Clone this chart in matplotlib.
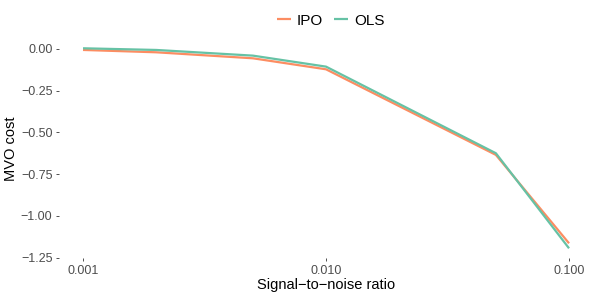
import matplotlib
matplotlib.use("Agg")
import matplotlib.pyplot as plt
from matplotlib.ticker import FixedLocator, FixedFormatter, NullLocator

# ── Data ──────────────────────────────────────────────────────────────────────
snr = [0.001, 0.002, 0.005, 0.01, 0.05, 0.1]
ipo_cost = [-0.006, -0.020, -0.056, -0.122, -0.635, -1.165]
ols_cost = [0.004, -0.006, -0.040, -0.106, -0.625, -1.195]

x_ticks = [0.001, 0.01, 0.1]
x_labels = ["0.001", "0.010", "0.100"]
y_ticks = [0.0, -0.25, -0.5, -0.75, -1.0, -1.25]
y_labels = ["0.00", "\u22120.25", "\u22120.50", "\u22120.75", "\u22121.00", "\u22121.25"]

IPO_COLOR = "#FC8D62"
OLS_COLOR = "#66C2A5"

plt.rcParams["font.family"] = ["Liberation Sans", "DejaVu Sans"]

fig = plt.figure(figsize=(5.98, 2.99), dpi=100)
ax = fig.add_axes([0.0982, 0.136, 0.894, 0.736])

ax.plot(snr, ipo_cost, color=IPO_COLOR, lw=1.6, label="IPO", solid_capstyle="butt")
ax.plot(snr, ols_cost, color=OLS_COLOR, lw=1.6, label="OLS", solid_capstyle="butt")

ax.set_xscale("log")
ax.set_xlim(10 ** -3.1, 10 ** -0.9)
ax.set_ylim(-1.255, 0.064)

ax.xaxis.set_major_locator(FixedLocator(x_ticks))
ax.xaxis.set_major_formatter(FixedFormatter(x_labels))
ax.xaxis.set_minor_locator(NullLocator())
ax.set_yticks(y_ticks)
ax.set_yticklabels(y_labels)

for s in ax.spines.values():
    s.set_visible(False)
ax.tick_params(axis="both", length=2.5, width=0.6, color="#333333",
               labelcolor="#4D4D4D", labelsize=9, pad=2)

ax.set_xlabel("Signal\u2212to\u2212noise ratio", fontsize=10.5, labelpad=1)
ax.set_ylabel("MVO cost", fontsize=10.5, labelpad=2)

fig.legend(loc="upper center", bbox_to_anchor=(0.553, 1.0), ncol=2, frameon=False,
           fontsize=11, handlelength=0.9, handletextpad=0.4, columnspacing=0.7)

fig.savefig("out.png", dpi=100)
